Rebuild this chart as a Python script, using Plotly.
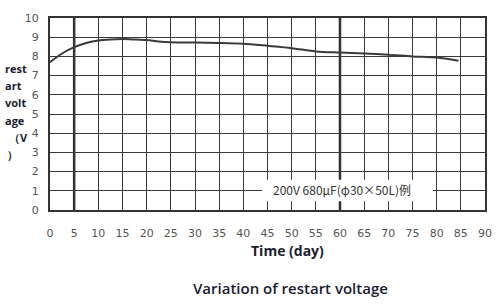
import plotly.graph_objects as go

days = [0, 2.5, 5, 7.5, 10, 12.5, 15, 17.5, 20, 22.5, 25, 30, 35, 40, 45, 50, 55, 60, 65, 70, 75, 80, 84.5]
volts = [7.7, 8.15, 8.48, 8.7, 8.83, 8.88, 8.9, 8.88, 8.85, 8.78, 8.74, 8.72, 8.7, 8.66, 8.55, 8.43, 8.26, 8.2, 8.15, 8.09, 8.0, 7.94, 7.77]
x_ticks = list(range(0, 95, 5))
y_ticks = list(range(0, 11))
thick_x = [5, 60]
note = "200V 680μF(φ30×50L)例"
y_title_lines = ["rest", "art", "volt", "age", "（V", "）"]

fig = go.Figure()
fig.add_trace(go.Scatter(x=days, y=volts, mode="lines",
                         line=dict(color="#3a3a3a", width=2, shape="spline", smoothing=0.8),
                         showlegend=False, hoverinfo="skip"))

for xv in thick_x:
    fig.add_shape(type="line", xref="x", yref="y", x0=xv, x1=xv, y0=0, y1=10,
                  line=dict(color="#2a2a2a", width=2.5), layer="below")

fig.add_shape(type="rect", xref="x", yref="y", x0=43.9, x1=79.2, y0=0.45, y1=1.58,
              fillcolor="white", line=dict(width=0), layer="above")
fig.add_annotation(x=60.5, y=1.05, xref="x", yref="y", text=note, showarrow=False,
                   font=dict(family="Noto Sans CJK SC", size=12, color="#333"))

# y-axis title, one line per annotation (pixel rows converted to paper coords)
plot_top, plot_h, plot_left, plot_w = 13, 197, 50, 437
x_px = [3, 3, 3, 3, 7, 5]
for i, line in enumerate(y_title_lines):
    ypx = 65 + i * 17.6
    fig.add_annotation(x=(x_px[i] - plot_left) / plot_w, y=1 - (ypx - plot_top) / plot_h,
                       xref="paper", yref="paper", xanchor="left", yanchor="middle",
                       text="<b>" + line + "</b>", showarrow=False,
                       font=dict(family="Open Sans", size=11, color="#1c1c30"))

fig.add_annotation(x=0.547, y=-0.213, xref="paper", yref="paper", yanchor="middle",
                   text="<b>Time (day)</b>", showarrow=False,
                   font=dict(family="Open Sans", size=14, color="#1c1c30"))
fig.add_annotation(x=0.554, y=-0.406, xref="paper", yref="paper", yanchor="middle",
                   text="Variation of restart voltage", showarrow=False,
                   font=dict(family="Open Sans", size=15, color="#1c1c30", weight=600))

axis_common = dict(showline=True, linecolor="#333", linewidth=2, mirror=True,
                   showgrid=True, gridcolor="#3a3a3a", gridwidth=1.3, zeroline=False,
                   ticks="", tickfont=dict(family="DejaVu Sans", size=11, color="#555"))

fig.update_xaxes(range=[0, 90], tickvals=x_ticks, ticklabelstandoff=12, **axis_common)
fig.update_yaxes(range=[0, 10], tickvals=y_ticks, ticklabelstandoff=7, **axis_common)

fig.update_layout(width=504, height=307, margin=dict(l=50, r=17, t=13, b=97),
                  plot_bgcolor="white", paper_bgcolor="white")
fig.write_html("out.html")
